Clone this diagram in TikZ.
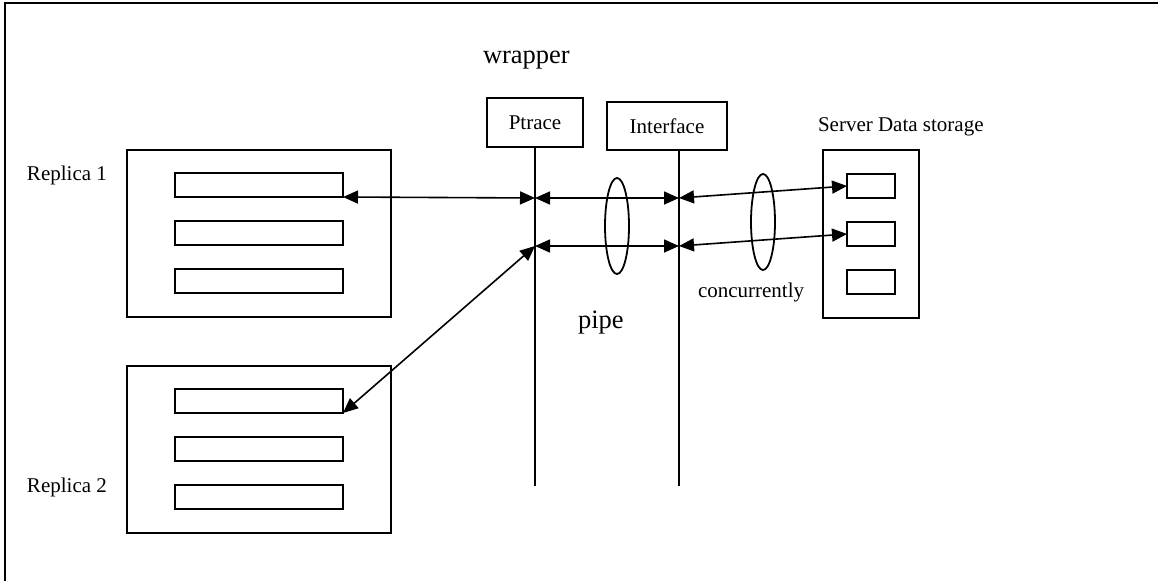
\documentclass[tikz,border=0pt]{standalone}
\usepackage{fontspec}
\setmainfont{Liberation Serif}
\usetikzlibrary{arrows.meta,shapes.geometric}
\begin{document}
\begin{tikzpicture}[x=1pt,y=-1pt,
  every node/.style={inner sep=0pt,outer sep=0pt},
  frame/.style={line width=1.8pt},
  box/.style={draw,line width=1.8pt,rectangle},
  bar/.style={draw,line width=1.8pt,rectangle,minimum width=168pt,minimum height=24pt},
  sbar/.style={draw,line width=1.8pt,rectangle,minimum width=48pt,minimum height=24pt},
  lbl/.style={font=\fontsize{21}{24}\selectfont,anchor=base west},
  biglbl/.style={font=\fontsize{26.5}{30}\selectfont,anchor=base west},
  conn/.style={line width=1.6pt,{Triangle[length=15pt,width=13pt]}-{Triangle[length=15pt,width=13pt]}},
  vline/.style={line width=1.8pt},
  pipeel/.style={draw,line width=1.8pt,ellipse,minimum width=24pt,minimum height=96pt}
]
\useasboundingbox (0,0) rectangle (1158,581);
% outer frame (top and left visible)
\draw[frame] (5,581) -- (5,3) -- (1158,3);

% Replica 1
\node[box,minimum width=264pt,minimum height=167pt] (r1) at (259,233.5) {};
\node[bar] (r1a) at (259,185) {};
\node[bar] (r1b) at (259,233) {};
\node[bar] (r1c) at (259,281) {};
\node[lbl] (r1l) at (27,180) {Replica 1};

% Replica 2
\node[box,minimum width=264pt,minimum height=167pt] (r2) at (259,449.5) {};
\node[bar] (r2a) at (259,401) {};
\node[bar] (r2b) at (259,449) {};
\node[bar] (r2c) at (259,497) {};
\node[lbl] (r2l) at (27,492) {Replica 2};

% wrapper
\node[biglbl] (wrap) at (483,63) {wrapper};
\node[box,minimum width=96pt,minimum height=49pt,font=\fontsize{21}{24}\selectfont] (pt) at (535,122.5) {Ptrace};
\node[box,minimum width=120pt,minimum height=48pt,font=\fontsize{21}{24}\selectfont] (if) at (667,126) {Interface};
\coordinate (ptb) at (535,486);
\coordinate (ifb) at (679,486);
\coordinate (ift) at (679,150);
\draw[vline] (pt.south) -- (ptb);
\draw[vline] (ift) -- (ifb);

\coordinate (p1) at (535,198);
\coordinate (p2) at (535,246);
\coordinate (i1) at (679,198);
\coordinate (i2) at (679,246);

% pipe ellipses
\node[pipeel] (e1) at (617,226) {};
\node[biglbl] (pipe) at (578,328) {pipe};

% server storage
\node[lbl] (srvl) at (818,131) {Server Data storage};
\node[box,minimum width=96pt,minimum height=168pt] (srv) at (871,234) {};
\node[sbar] (s1) at (871,186) {};
\node[sbar] (s2) at (871,234) {};
\node[sbar] (s3) at (871,282) {};
\node[pipeel] (e2) at (763,222) {};
\node[lbl] (conc) at (698,297) {concurrently};

% connectors
\draw[conn] (r1a.south east) -- (p1);
\draw[conn] (p1) -- (i1);
\draw[conn] (p2) -- (i2);
\draw[conn] (r2a.south east) -- (p2);
\draw[conn] (i1) -- (s1.west);
\draw[conn] (i2) -- (s2.west);
\end{tikzpicture}
\end{document}
